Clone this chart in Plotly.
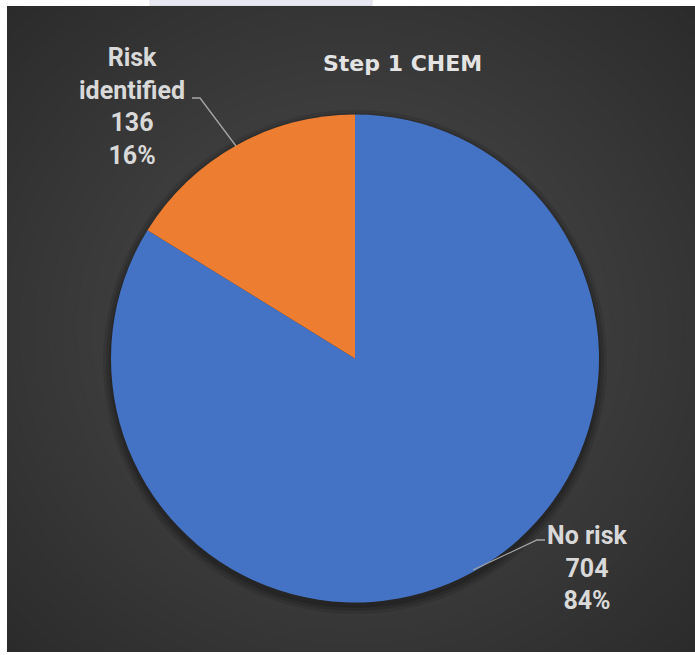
import plotly.graph_objects as go

# ---- data ----
labels = ["No risk", "Risk identified"]
label_text = ["No risk", "Risk<br>identified"]
values = [704, 136]
colors = ["#4472C4", "#ED7D31"]
title = "Step 1 CHEM"

W, H = 695, 655


def px(x):
    return x / W


def py(y):
    return 1 - y / H


total = sum(values)
pcts = [round(v / total * 100) for v in values]

fig = go.Figure()
fig.add_trace(go.Pie(
    labels=labels,
    values=values,
    marker=dict(colors=colors, line=dict(width=0)),
    sort=False,
    direction="clockwise",
    rotation=0,
    textinfo="none",
    showlegend=False,
    domain=dict(x=[px(111), px(599)], y=[py(602.5), py(114.5)]),
))

shapes = []
# dark chart area
shapes.append(dict(type="rect", xref="paper", yref="paper", layer="below",
                   x0=px(7), x1=px(695), y0=py(652), y1=py(6),
                   fillcolor="#252525", line=dict(width=0)))
# radial gradient via opaque concentric ellipses, lighter toward centre
cx, cy = 351, 330
g0, g1 = 38, 66
n = g1 - g0 + 1
for k in range(n):
    r = 560 - k * (400 / (n - 1))
    g = g0 + k
    shapes.append(dict(type="circle", xref="paper", yref="paper", layer="below",
                       x0=px(cx - r), x1=px(cx + r), y0=py(cy + r * 0.95), y1=py(cy - r * 0.95),
                       fillcolor=f"rgb({g},{g},{g})", line=dict(width=0)))
# white margins masking the gradient spill
shapes.append(dict(type="rect", xref="paper", yref="paper", layer="below",
                   x0=-0.1, x1=px(7), y0=-0.1, y1=1.1, fillcolor="white", line=dict(width=0)))
shapes.append(dict(type="rect", xref="paper", yref="paper", layer="below",
                   x0=-0.1, x1=1.1, y0=py(6), y1=1.1, fillcolor="white", line=dict(width=0)))
shapes.append(dict(type="rect", xref="paper", yref="paper", layer="below",
                   x0=-0.1, x1=1.1, y0=-0.1, y1=py(652), fillcolor="white", line=dict(width=0)))
shapes.append(dict(type="rect", xref="paper", yref="paper", layer="below",
                   x0=1.0, x1=1.1, y0=-0.1, y1=1.1, fillcolor="white", line=dict(width=0)))
# faint tab at top
shapes.append(dict(type="rect", xref="paper", yref="paper", layer="below",
                   x0=px(150), x1=px(372), y0=py(5.5), y1=py(-2),
                   fillcolor="#e8e8f2", line=dict(width=1, color="#dedee8")))
# pie shadow
for d, a in [(8, 0.10), (5, 0.12), (2, 0.15)]:
    r = 244 + d
    shapes.append(dict(type="circle", xref="paper", yref="paper", layer="below",
                       x0=px(355 - r), x1=px(355 + r), y0=py(362 + r), y1=py(362 - r),
                       fillcolor=f"rgba(0,0,0,{a})", line=dict(width=0)))
# leader lines
line_style = dict(color="#a6a6a6", width=1.3)
for pts in ([(192, 98), (200, 98), (236, 146)], [(473, 570), (537, 540), (545, 540)]):
    path = "M " + " L ".join(f"{px(x)},{py(y)}" for x, y in pts)
    shapes.append(dict(type="path", xref="paper", yref="paper", path=path, line=line_style))

label_font = dict(family="Roboto", size=25, color="#d9d9d9")
anns = [
    dict(text=f"<b>{label_text[1]}<br>{values[1]}<br>{pcts[1]}%</b>",
         x=px(132), y=py(107), xref="paper", yref="paper",
         xanchor="center", yanchor="middle", showarrow=False, font=label_font),
    dict(text=f"<b>{label_text[0]}<br>{values[0]}<br>{pcts[0]}%</b>",
         x=px(587), y=py(568), xref="paper", yref="paper",
         xanchor="center", yanchor="middle", showarrow=False, font=label_font),
    dict(text=f"<b>{title}</b>", x=px(402), y=py(63), xref="paper", yref="paper",
         xanchor="center", yanchor="middle", showarrow=False,
         font=dict(family="DejaVu Sans", size=22, color="#e3e3e3")),
]

fig.update_layout(
    width=W, height=H,
    margin=dict(l=0, r=0, t=0, b=0),
    paper_bgcolor="white",
    plot_bgcolor="white",
    shapes=shapes,
    annotations=anns,
)

fig.write_html("out.html")
